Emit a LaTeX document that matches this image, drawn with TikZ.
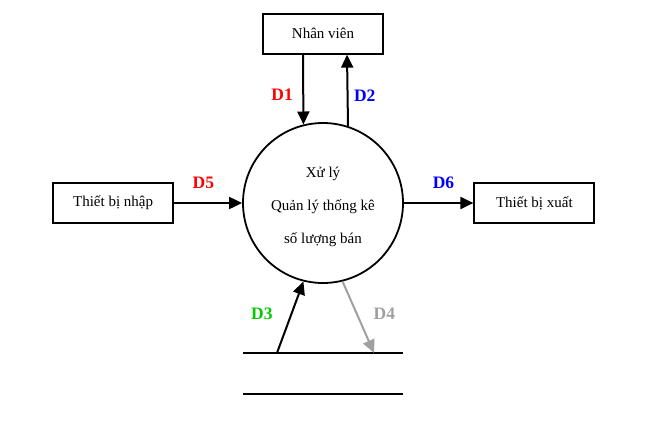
\documentclass[tikz,border=0pt]{standalone}
\usepackage{fontspec}
\setmainfont{Liberation Serif}
\usepackage{xcolor}
\usetikzlibrary{arrows.meta, positioning}

\definecolor{flowgreen}{RGB}{0,204,0}
\definecolor{flowgray}{RGB}{160,160,160}

\begin{document}
\begin{tikzpicture}[
    x=1pt, y=-1pt,
    block/.style={rectangle, draw, line width=2pt, minimum width=120pt, minimum height=40pt, font=\fontsize{15}{18}\selectfont},
    process/.style={circle, draw, line width=1.8pt, minimum size=160pt, inner sep=0pt, align=center, font=\fontsize{15}{33}\selectfont},
    arrow/.style={-{Triangle[length=13pt, width=12pt]}, line width=2pt},
    flow/.style={inner sep=0pt, font=\fontsize{17.5}{20}\selectfont\bfseries}
]
\useasboundingbox (0,0) rectangle (658,421);

% Process and external entities
\node[process] (proc) at (323,203) {\rule{0pt}{18pt}Xử lý\\Quản lý thống kê\\số lượng bán};
\node[block, above=67.5pt of proc] (staff) {Nhân viên};
\node[block, left=68pt of proc] (input) {Thiết bị nhập};
\node[block, right=69.5pt of proc] (output) {Thiết bị xuất};

% Data store
\node[minimum width=159pt, minimum height=41pt, inner sep=0pt, below=69pt of proc] (store) {};
\draw[line width=2pt] (store.north west) -- (store.north east);
\draw[line width=2pt] (store.south west) -- (store.south east);

% Flows
\draw[arrow] ([xshift=-20pt]staff.south) -- (proc.104.5)
    node[flow, text=red, pos=0.58, left=9.5pt] (d1) {D1};
\draw[arrow] (proc.72.5) -- ([xshift=24pt]staff.south)
    node[flow, text=blue, pos=0.42, right=5.5pt] (d2) {D2};
\draw[arrow] (input) -- (proc)
    node[flow, text=red, pos=0.43, above=13pt] (d5) {D5};
\draw[arrow] (proc) -- (output)
    node[flow, text=blue, pos=0.57, above=13pt] (d6) {D6};
\draw[arrow] ([xshift=-46pt]store.north) -- (proc.256)
    node[flow, text=flowgreen, pos=0.55, left=18pt] (d3) {D3};
\draw[arrow, color=flowgray] (proc.284) -- ([xshift=51pt]store.north)
    node[flow, text=flowgray, pos=0.45, right=16pt] (d4) {D4};

\end{tikzpicture}
\end{document}
